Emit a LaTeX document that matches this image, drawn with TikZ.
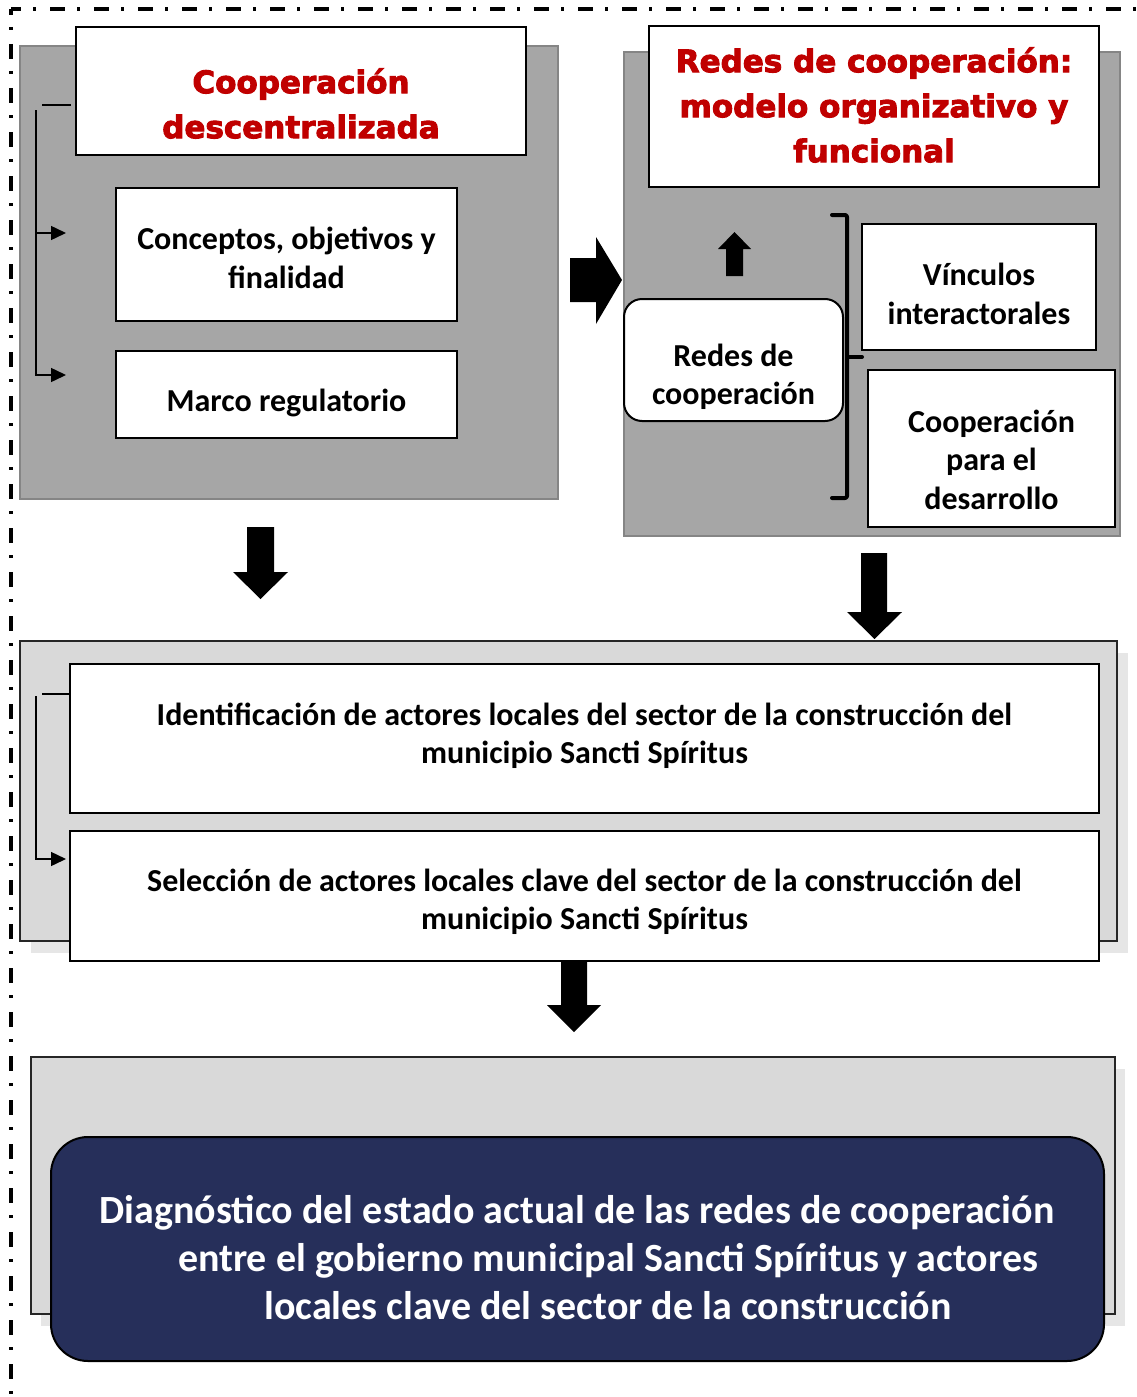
\documentclass[tikz,border=0pt]{standalone}
\usepackage{fontspec}
\setmainfont{Carlito}
\newfontfamily\heavyfont{DejaVu Sans}[BoldFeatures={FakeBold=3}]
\usetikzlibrary{arrows.meta}
\definecolor{darkred}{HTML}{C00000}
\definecolor{panelgray}{HTML}{A6A6A6}
\definecolor{paneledge}{HTML}{858585}
\definecolor{lightpanel}{HTML}{D9D9D9}
\definecolor{shadowgray}{HTML}{E6E6E6}
\definecolor{navyblue}{HTML}{262F5A}
\tikzset{
  panel/.style={fill=panelgray, draw=paneledge, line width=2.5pt, inner sep=0pt},
  lightbox/.style={fill=lightpanel, draw=black!85, line width=2pt, inner sep=0pt},
  shadowbox/.style={fill=shadowgray, draw=none, inner sep=0pt},
  whitebox/.style={fill=white, draw=black, line width=2pt, inner sep=0pt},
  bodytext/.style={font=\fontsize{32}{38.5}\selectfont\bfseries, align=center, inner sep=0pt},
  titletext/.style={font=\heavyfont\bfseries\fontsize{31}{45}\selectfont, text=darkred, align=center, inner sep=0pt},
  navytext/.style={font=\fontsize{40}{48}\selectfont\bfseries, text=white, align=center, inner sep=0pt},
  blockarrow/.style={fill=black, draw=none},
  conn/.style={line width=1.5pt},
  connarrow/.style={conn, -{Triangle[length=15pt,width=14pt]}},
  brace/.style={line width=4pt, line cap=round, line join=round, rounded corners=2pt},
  framedash/.style={line width=4pt, dash pattern=on 15pt off 12pt on 3pt off 14pt}
}
\begin{document}
\begin{tikzpicture}[x=1pt,y=-1pt]
\useasboundingbox (0,0) rectangle (1137,1397);

% outer dash-dot frame
\draw[framedash, dash phase=5pt] (11,9) -- (1137,9);
\draw[framedash, dash phase=9pt] (11,9) -- (11,1397);

% ---------- left panel ----------
\node[panel, minimum width=538pt, minimum height=453pt] (leftpanel) at (289,272.5) {};
\node[whitebox, minimum width=450pt, minimum height=128pt] (title1) at (301,91) {};
\node[titletext] (title1txt) at (301,103.5) {Cooperación\\descentralizada};
\node[whitebox, minimum width=341pt, minimum height=133pt] (concept) at (286.5,254.5) {};
\node[bodytext] (concepttxt) at (286.5,258) {Conceptos, objetivos y\\finalidad};
\node[whitebox, minimum width=341pt, minimum height=87pt] (marco) at (286.5,394.5) {};
\node[bodytext] (marcotxt) at (286.5,403) {Marco regulatorio};

\coordinate (la) at (42,105);
\coordinate (lb) at (71,105);
\coordinate (lv) at (36,110);
\coordinate (lc) at (66,233);
\coordinate (ld) at (66,375);
\draw[conn] (la) -- (lb);
\draw[connarrow] (lv) -- (lv |- ld) -- (ld);
\draw[connarrow] (lv |- lc) -- (lc);

% big right arrow
\draw[blockarrow] (570,258) -- (596,258) -- (596,237) -- (622,280) -- (596,324) -- (596,302) -- (570,302) -- cycle;

% ---------- right panel ----------
\node[panel, minimum width=496pt, minimum height=484pt] (rightpanel) at (872,294) {};
\node[whitebox, minimum width=450pt, minimum height=161pt] (title2) at (874,106.5) {};
\node[titletext] (title2txt) at (874,105) {Redes de cooperación:\\modelo organizativo y\\funcional};
\node[whitebox, rounded corners=18pt, minimum width=219pt, minimum height=122pt] (redes) at (733.5,360) {};
\node[bodytext] (redestxt) at (733.5,377) {Redes de\\cooperación};
\node[whitebox, minimum width=234pt, minimum height=126pt] (vinc) at (979,287) {};
\node[bodytext] (vinctxt) at (979,294) {Vínculos\\interactorales};
\node[whitebox, minimum width=247pt, minimum height=157pt] (coopdes) at (991.5,448.5) {};
\node[bodytext] (coopdestxt) at (991.5,459.5) {Cooperación\\para el\\desarrollo};

% small up arrow
\draw[blockarrow] (726,276) -- (726,249) -- (718,249) -- (734.5,232) -- (751,249) -- (743,249) -- (743,276) -- cycle;

% bracket
\draw[brace] (832,215) -- (847,215) -- (847,498) -- (832,498);
\draw[brace] (847,357) -- (862,357);

% down arrows
\draw[blockarrow] (247,527) -- (274,527) -- (274,572) -- (288,572) -- (260.5,599) -- (233,572) -- (247,572) -- cycle;
\draw[blockarrow] (861,553) -- (887,553) -- (887,612) -- (902,612) -- (874.5,639) -- (847,612) -- (861,612) -- cycle;

% ---------- middle panel ----------
\node[shadowbox, minimum width=1097pt, minimum height=300pt] (midshadow) at (579.5,803) {};
\node[lightbox, minimum width=1097pt, minimum height=300pt] (midpanel) at (568.5,791) {};
\node[whitebox, minimum width=1029pt, minimum height=149pt] (ident) at (584.5,738.5) {};
\node[bodytext] (identtxt) at (584.5,736) {Identificación de actores locales del sector de la construcción del\\municipio Sancti Spíritus};
\node[whitebox, minimum width=1029pt, minimum height=130pt] (selec) at (584.5,896) {};
\node[bodytext] (selectxt) at (584.5,902) {Selección de actores locales clave del sector de la construcción del\\municipio Sancti Spíritus};

\coordinate (ma) at (42,694);
\coordinate (mb) at (70,694);
\coordinate (mv) at (36,696);
\coordinate (mc) at (66,859);
\draw[conn] (ma) -- (mb);
\draw[connarrow] (mv) -- (mv |- mc) -- (mc);

\draw[blockarrow] (561,961) -- (587,961) -- (587,1005) -- (601,1005) -- (574,1032) -- (547,1005) -- (561,1005) -- cycle;

% ---------- bottom panel ----------
\node[shadowbox, minimum width=1084pt, minimum height=257pt] (botshadow) at (583,1197) {};
\node[lightbox, line width=1.5pt, minimum width=1084pt, minimum height=257pt] (botpanel) at (573,1185.5) {};
\node[fill=navyblue, draw=black, line width=2pt, rounded corners=37pt, minimum width=1053pt, minimum height=224pt, inner sep=0pt] (diag) at (577.5,1249) {};
\node[navytext] (diagtxt) at (608,1258) {Diagnóstico del estado actual de las redes de cooperación\hspace*{62pt}\\entre el gobierno municipal Sancti Spíritus y actores\\locales clave del sector de la construcción};
\end{tikzpicture}
\end{document}
